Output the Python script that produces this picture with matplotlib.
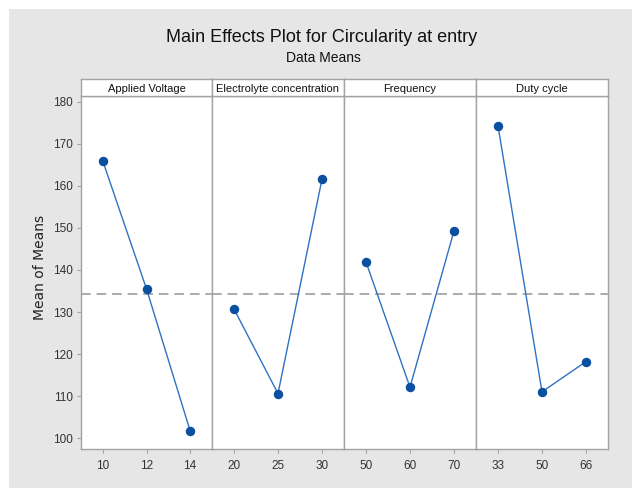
import numpy as np
import matplotlib
matplotlib.use('Agg')
import matplotlib.pyplot as plt
from matplotlib.patches import Rectangle

# factors and their level means
factors = ['Applied Voltage', 'Electrolyte concentration', 'Frequency', 'Duty cycle']
voltage_levels = ['10', '12', '14']
voltage_means = [165.9, 135.5, 101.7]
conc_levels = ['20', '25', '30']
conc_means = [130.7, 110.6, 161.6]
freq_levels = ['50', '60', '70']
freq_means = [141.9, 112.1, 149.3]
duty_levels = ['33', '50', '66']
duty_means = [174.3, 111.0, 118.2]

levels = [voltage_levels, conc_levels, freq_levels, duty_levels]
means = [voltage_means, conc_means, freq_means, duty_means]
grand_mean = np.mean(np.concatenate(means))
yticks = [100, 110, 120, 130, 140, 150, 160, 170, 180]

W, H = 632, 488
def fx(px):
    return px / W
def fy(py):
    return 1 - py / H

plt.rcParams['font.family'] = ['Liberation Sans', 'DejaVu Sans']

fig = plt.figure(figsize=(W / 100, H / 100), dpi=100, facecolor='white')
# grey panel behind everything, white strip at top/left like the screenshot
bg = Rectangle((fx(9), 0), 1 - fx(9), fy(9), transform=fig.transFigure,
               facecolor='#E6E6E6', edgecolor='none', zorder=-10)
fig.patches.append(bg)

edges = [81, 212, 344, 476, 608]
top, bottom, head_top = 96, 449, 79
grid_col = '#A3A3A3'

for i in range(4):
    ax = fig.add_axes([fx(edges[i]), fy(bottom), fx(edges[i + 1]) - fx(edges[i]), fy(top) - fy(bottom)])
    ax.set_facecolor('white')
    x = np.arange(len(levels[i]))
    ax.axhline(grand_mean, color='#ABABAB', lw=1.4, ls=(0, (5, 3)), zorder=1)
    ax.plot(x, means[i], color='#2E72C2', lw=1.0, zorder=2)
    ax.plot(x, means[i], 'o', color='#0A4FA0', ms=5.8, zorder=3)
    ax.set_xlim(-0.5, 2.5)
    ax.set_ylim(97.4, 181.4)
    ax.set_xticks(x)
    ax.set_xticklabels(levels[i], fontsize=8.5, color='#333333')
    for s in ax.spines.values():
        s.set_color(grid_col)
        s.set_linewidth(1.0)
    ax.tick_params(axis='x', length=3, color=grid_col, pad=5)
    if i == 0:
        ax.set_yticks(yticks)
        ax.set_yticklabels([str(v) for v in yticks], fontsize=8.5, color='#333333')
        ax.tick_params(axis='y', length=3, color=grid_col, pad=3)
    else:
        ax.set_yticks([])

    # factor name strip
    hax = fig.add_axes([fx(edges[i]), fy(top), fx(edges[i + 1]) - fx(edges[i]), fy(head_top) - fy(top)])
    hax.set_facecolor('white')
    hax.set_xticks([])
    hax.set_yticks([])
    for s in hax.spines.values():
        s.set_color(grid_col)
        s.set_linewidth(1.0)
    hax.text(0.5, 0.42, factors[i], ha='center', va='center', fontsize=8,
             color='#111111', transform=hax.transAxes)

fig.text(fx(322), fy(37), 'Main Effects Plot for Circularity at entry', ha='center', va='center',
         fontsize=13, color='#111111')
fig.text(fx(323), fy(58), 'Data Means', ha='center', va='center', fontsize=10, color='#111111')
fig.text(fx(40), fy(267), 'Mean of Means', ha='center', va='center', rotation=90,
         fontsize=10, color='#222222', family='DejaVu Sans')

fig.savefig('out.png', dpi=100)
